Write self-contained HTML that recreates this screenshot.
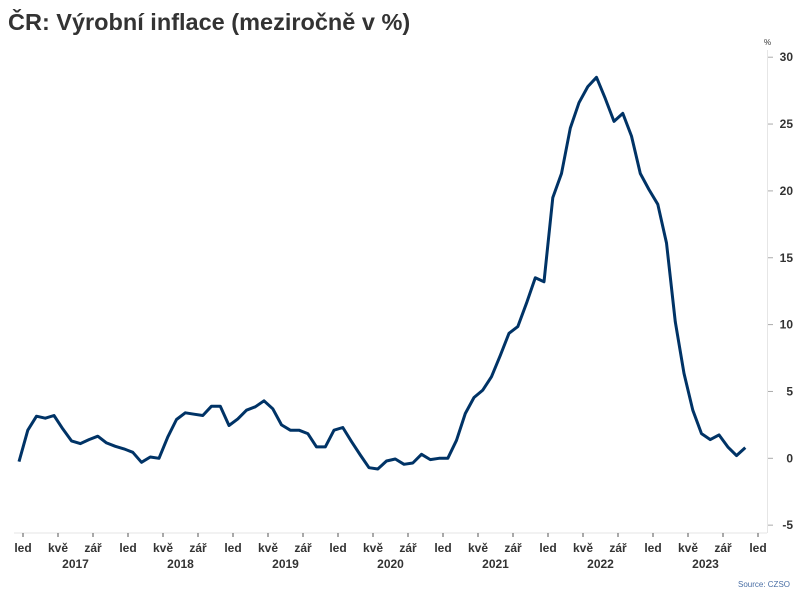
<!DOCTYPE html>
<html><head><meta charset="utf-8"><style>
body{margin:0;background:#fff;}
svg{display:block;font-family:"Liberation Sans",sans-serif;}
</style></head><body>
<svg id="chart" width="800" height="600">
<text x="8" y="30" font-size="23.5" font-weight="bold" fill="#333">ČR: Výrobní inflace (meziročně v %)</text>
<text x="764" y="45" font-size="8" fill="#333">%</text>
<text x="790" y="587" font-size="8" fill="#4a6fa5" text-anchor="end">Source: CZSO</text>
<g id="axes"></g>
<path id="line" fill="none" stroke="#003366" stroke-width="3" stroke-linejoin="round"></path>
</svg>
<script>
const values = [-0.25,2.1,3.15,3.0,3.2,2.2,1.3,1.1,1.4,1.65,1.15,0.9,0.7,0.45,-0.3,0.1,0.0,1.6,2.9,3.4,3.3,3.2,3.9,3.9,
2.45,2.95,3.6,3.85,4.3,3.7,2.5,2.1,2.1,1.85,0.85,0.85,2.1,2.3,1.25,0.25,-0.7,-0.8,-0.2,-0.05,
-0.45,-0.35,0.3,-0.1,0.0,0.0,1.35,3.35,4.55,5.1,6.1,7.7,9.35,9.85,11.6,13.5,13.2,19.5,21.3,24.7,26.6,27.8,28.5,26.9,25.2,25.8,24.1,21.3,20.1,19.0,16.1,10.2,6.35,3.6,1.85,1.4,1.75,0.85,0.2,0.8];
const yTicks = [-5,0,5,10,15,20,25,30];
const monthLabels = ["led","kvě","zář"];
const years = ["2017","2018","2019","2020","2021","2022","2023"];
const NS="http://www.w3.org/2000/svg";
const x = m => 19 + m*8.75;
const y = v => 458.3 - v*13.37;
const axes=document.getElementById('axes');
function mk(tag,attrs,text){const e=document.createElementNS(NS,tag);for(const k in attrs)e.setAttribute(k,attrs[k]);if(text!==undefined)e.textContent=text;axes.appendChild(e);return e;}
let e;
e=mk('line',{x1:14,x2:767,y1:533,y2:533,stroke:'#e6e6e6','stroke-width':1});


e=mk('line',{x1:767.5,x2:767.5,y1:50,y2:533,stroke:'#e6e6e6','stroke-width':1});


yTicks.forEach(t=>{
  const l=mk('line',{x1:768,x2:773,y1:y(t),y2:y(t),stroke:'#aaa','stroke-width':1});
  
  
  const tx=mk('text',{x:793,y:y(t)+4,'font-size':12,'font-weight':'bold',fill:'#333','text-anchor':'end'},String(t));
  
  
});
for(let m=0;m<=years.length*12;m+=4){
  const lab=monthLabels[(m/4)%3];
  const l=mk('line',{x1:x(m)+4,x2:x(m)+4,y1:533,y2:537,stroke:'#555','stroke-width':1});
  
  
  const tx=mk('text',{x:x(m)+4,y:552,'font-size':12,'font-weight':'bold',fill:'#333','text-anchor':'middle'},lab);
  
  
}
years.forEach((yr,i)=>{
  const tx=mk('text',{x:x(i*12+6)+4,y:568,'font-size':12,'font-weight':'bold',fill:'#333','text-anchor':'middle'},yr);
  
  
});
document.getElementById('line').setAttribute('d',values.map((v,i)=>(i?'L':'M')+x(i).toFixed(1)+','+y(v).toFixed(1)).join(''));
</script>
</body></html>
